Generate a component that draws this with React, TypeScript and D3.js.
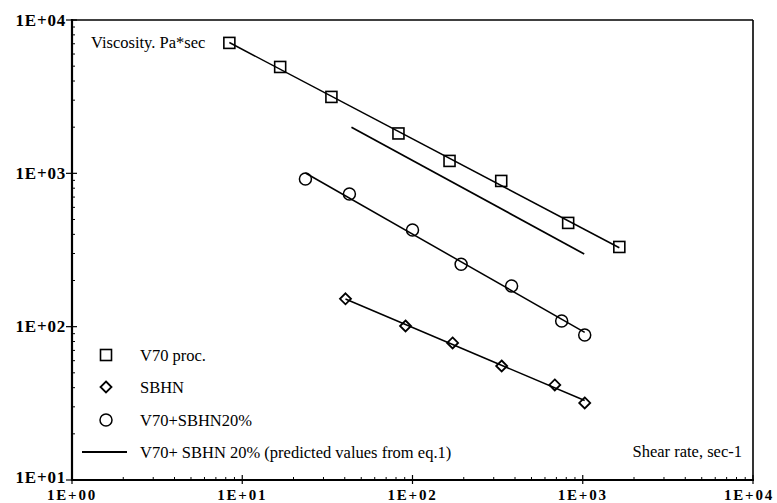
import React from "react";
import * as d3 from "d3";

// Shear rate (1/s) and viscosity (Pa*s) readings per material
const v70Rate = [8.4, 16.7, 33.4, 82.7, 165, 332, 821, 1640];
const v70Visc = [7090, 4940, 3150, 1820, 1205, 892, 475, 331];

const sbhnRate = [40.4, 91, 172, 334, 685, 1027];
const sbhnVisc = [152, 101, 78.3, 55.4, 41.7, 31.8];

const blendRate = [23.5, 42.6, 100, 193, 382, 752, 1027];
const blendVisc = [919, 734, 427, 255, 184, 109, 88.3];

// Predicted curve for the blend (eq. 1), end points
const predRate = [43.8, 1020];
const predVisc = [2000, 298];

const xTicks = [1, 10, 100, 1000, 10000];
const xTickLabels = ["1E+00", "1E+01", "1E+02", "1E+03", "1E+04"];
const yTicks = [10, 100, 1000, 10000];
const yTickLabels = ["1E+01", "1E+02", "1E+03", "1E+04"];

const legendLabels = [
  "V70 proc.",
  "SBHN",
  "V70+SBHN20%",
  "V70+ SBHN 20% (predicted values from eq.1)",
];

const W = 777;
const H = 503;
const L = 72;
const R = 753;
const T = 20;
const B = 480;

const x = d3.scaleLog().domain([1, 10000]).range([L, R]);
const y = d3.scaleLog().domain([10, 10000]).range([B, T]);

const serif = "'Liberation Serif', 'Times New Roman', serif";

// least-squares power-law fit in log-log space, drawn over the data range
function fitLine(xs: number[], ys: number[]): [number, number][] {
  const lx = xs.map(Math.log10);
  const ly = ys.map(Math.log10);
  const mx = d3.mean(lx)!;
  const my = d3.mean(ly)!;
  let num = 0;
  let den = 0;
  lx.forEach((v, i) => {
    num += (v - mx) * (ly[i] - my);
    den += (v - mx) * (v - mx);
  });
  const b = num / den;
  const a = my - b * mx;
  const x0 = d3.min(xs)!;
  const x1 = d3.max(xs)!;
  return [
    [x0, Math.pow(10, a + b * Math.log10(x0))],
    [x1, Math.pow(10, a + b * Math.log10(x1))],
  ];
}

const line = d3
  .line<[number, number]>()
  .x((d) => x(d[0]))
  .y((d) => y(d[1]));

function Square({ cx, cy }: { cx: number; cy: number }) {
  return (
    <rect x={cx - 5.5} y={cy - 5.5} width={11} height={11} fill="none" stroke="#000" strokeWidth={1.6} />
  );
}
function Diamond({ cx, cy }: { cx: number; cy: number }) {
  const s = 5.5;
  return (
    <path
      d={`M${cx},${cy - s}L${cx + s},${cy}L${cx},${cy + s}L${cx - s},${cy}Z`}
      fill="none"
      stroke="#000"
      strokeWidth={1.8}
    />
  );
}
function Circle({ cx, cy }: { cx: number; cy: number }) {
  return <circle cx={cx} cy={cy} r={6} fill="none" stroke="#000" strokeWidth={1.5} />;
}

export default function App() {
  const minorX: number[] = [];
  for (let e = 0; e < 4; e++) for (let m = 2; m <= 9; m++) minorX.push(m * Math.pow(10, e));
  const minorY: number[] = [];
  for (let e = 1; e < 4; e++) for (let m = 2; m <= 9; m++) minorY.push(m * Math.pow(10, e));

  const legendY = [355, 387, 420, 452];

  return (
    <svg
      width={W}
      height={H}
      style={{ position: "absolute", left: 0, top: 0, background: "#fff" }}
      fontFamily={serif}
    >
      <rect x={0} y={0} width={W} height={H} fill="#fff" />

      {/* frame */}
      <line x1={L} x2={R} y1={T} y2={T} stroke="#000" strokeWidth={1.6} />
      <line x1={R} x2={R} y1={T} y2={B} stroke="#000" strokeWidth={1.6} />
      <line x1={L} x2={L} y1={T - 1} y2={B + 1} stroke="#000" strokeWidth={2.2} />
      <line x1={L - 1} x2={R + 1} y1={B} y2={B} stroke="#000" strokeWidth={2.2} />

      {/* minor ticks */}
      {minorX.map((v, i) => (
        <line key={`mx${i}`} x1={x(v)} x2={x(v)} y1={B} y2={B - 3} stroke="#000" strokeWidth={1} />
      ))}
      {minorY.map((v, i) => (
        <line key={`my${i}`} x1={L} x2={L + 3} y1={y(v)} y2={y(v)} stroke="#000" strokeWidth={1} />
      ))}

      {/* major ticks and labels */}
      {xTicks.map((v, i) => (
        <g key={`xt${i}`}>
          <line x1={x(v)} x2={x(v)} y1={B - 5} y2={B + 4} stroke="#000" strokeWidth={1.2} />
          <text
            x={i === xTicks.length - 1 ? 774 : x(v)}
            y={500}
            textAnchor={i === xTicks.length - 1 ? "end" : "middle"}
            fontSize={15}
            fontWeight="bold"
            letterSpacing={1.8}
          >
            {xTickLabels[i]}
          </text>
        </g>
      ))}
      {yTicks.map((v, i) => (
        <g key={`yt${i}`}>
          <line x1={L - 6} x2={L + 5} y1={y(v)} y2={y(v)} stroke="#000" strokeWidth={1.2} />
          <text
            x={66}
            y={Math.min(y(v) + 5.5, 482.5)}
            textAnchor="end"
            fontSize={17}
            fontWeight="bold"
            letterSpacing={0.8}
          >
            {yTickLabels[i]}
          </text>
        </g>
      ))}

      {/* axis titles */}
      <text x={91} y={48} fontSize={16.5}>
        Viscosity. Pa*sec
      </text>
      <text x={742} y={457} fontSize={16.5} textAnchor="end">
        Shear rate, sec-1
      </text>

      {/* fitted lines */}
      <g fill="none" stroke="#000" strokeWidth={1.5}>
        <path d={line(fitLine(v70Rate, v70Visc))!} />
        <path d={line(fitLine(sbhnRate, sbhnVisc))!} />
        <path d={line(fitLine(blendRate, blendVisc))!} />
        <path d={line(predRate.map((r, i) => [r, predVisc[i]] as [number, number]))!} strokeWidth={1.7} />
      </g>

      {/* measured points */}
      {v70Rate.map((r, i) => (
        <Square key={`s${i}`} cx={x(r)} cy={y(v70Visc[i])} />
      ))}
      {sbhnRate.map((r, i) => (
        <Diamond key={`d${i}`} cx={x(r)} cy={y(sbhnVisc[i])} />
      ))}
      {blendRate.map((r, i) => (
        <Circle key={`c${i}`} cx={x(r)} cy={y(blendVisc[i])} />
      ))}

      {/* legend */}
      <Square cx={106} cy={legendY[0]} />
      <Diamond cx={106} cy={legendY[1]} />
      <Circle cx={106} cy={legendY[2]} />
      <line x1={82} x2={127} y1={legendY[3]} y2={legendY[3]} stroke="#000" strokeWidth={2} />
      {legendLabels.map((t, i) => (
        <text key={`l${i}`} x={140} y={legendY[i] + 5.5} fontSize={16.5}>
          {t}
        </text>
      ))}
    </svg>
  );
}
